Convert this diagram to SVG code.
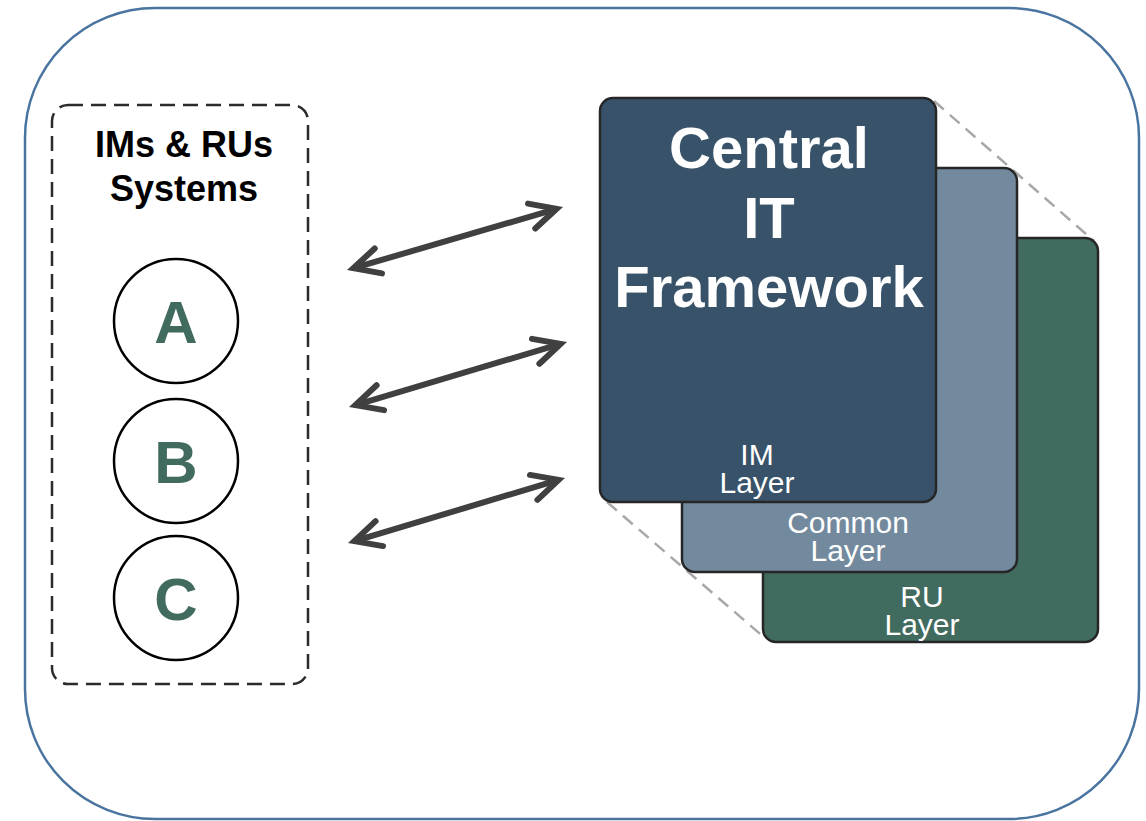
<svg xmlns="http://www.w3.org/2000/svg" width="1146" height="821" viewBox="0 0 1146 821">
  <style>
    .frame { fill: #ffffff; stroke: #4a74a0; stroke-width: 2.5; }
    .group-box { fill: none; stroke: #2b2b2b; stroke-width: 2.5; stroke-dasharray: 15 8; }
    .sys { fill: #ffffff; stroke: #000000; stroke-width: 2.5; }
    .sys-label { font-family: "Liberation Sans", Arial, sans-serif; font-weight: bold; font-size: 60px; fill: #426b5f; text-anchor: middle; }
    .title { font-family: "Liberation Sans", Arial, sans-serif; font-weight: bold; font-size: 36px; fill: #000000; text-anchor: middle; }
    .layer { stroke: #262626; stroke-width: 2.5; }
    .layer-label { font-family: "Liberation Sans", Arial, sans-serif; font-size: 30px; fill: #ffffff; text-anchor: middle; }
    .big { font-family: "Liberation Sans", Arial, sans-serif; font-weight: bold; font-size: 58px; fill: #ffffff; text-anchor: middle; }
    .guide { fill: none; stroke: #a8a8a8; stroke-width: 2.5; stroke-dasharray: 13 8; }
    .link { fill: none; stroke: #404040; stroke-width: 6; stroke-linecap: butt; marker-start: url(#head); marker-end: url(#head); }
  </style>
  <defs>
    <marker id="head" markerUnits="userSpaceOnUse" markerWidth="40" markerHeight="40" refX="0" refY="0" orient="auto-start-reverse" overflow="visible">
      <path d="M -26 -13 L 0 0 L -26 13" fill="none" stroke="#404040" stroke-width="6" stroke-linecap="round" stroke-linejoin="miter"/>
    </marker>
  </defs>

  <!-- outer frame -->
  <rect class="frame" x="25" y="8" width="1114" height="811" rx="130" ry="130"/>

  <!-- left group: source systems -->
  <g id="systems">
    <rect class="group-box" x="52" y="105" width="256" height="579" rx="16" ry="16"/>
    <text class="title" x="184" y="157">IMs &amp; RUs<tspan x="184" dy="44">Systems</tspan></text>
  </g>
  <g id="system-a">
    <circle class="sys" cx="176" cy="321" r="62"/>
    <text class="sys-label" x="176" y="343">A</text>
  </g>
  <g id="system-b">
    <circle class="sys" cx="176" cy="461" r="62"/>
    <text class="sys-label" x="176" y="483">B</text>
  </g>
  <g id="system-c">
    <circle class="sys" cx="176" cy="598" r="62"/>
    <text class="sys-label" x="176" y="620">C</text>
  </g>

  <!-- connectors -->
  <g id="connectors">
    <path class="link" d="M 353.4 268.2 L 556.6 208.8"/>
    <path class="link" d="M 355.4 405.1 L 560.6 343.9"/>
    <path class="link" d="M 354.4 541.1 L 558.6 479.9"/>
  </g>

  <!-- stacked layers of the central framework -->
  <g id="guides">
    <line class="guide" x1="934" y1="101" x2="1094" y2="241"/>
    <line class="guide" x1="607" y1="502" x2="766" y2="639"/>
  </g>
  <g id="ru-layer">
    <rect class="layer" x="763" y="238" width="335" height="404" rx="13" ry="13" fill="#426b5f"/>
    <text class="layer-label" x="922" y="607">RU<tspan x="922" dy="28">Layer</tspan></text>
  </g>
  <g id="common-layer">
    <rect class="layer" x="682" y="168" width="335" height="404" rx="13" ry="13" fill="#738a9e"/>
    <text class="layer-label" x="848" y="533">Common<tspan x="848" dy="28">Layer</tspan></text>
  </g>
  <g id="im-layer">
    <rect class="layer" x="600" y="98" width="336" height="404" rx="13" ry="13" fill="#385369"/>
    <text class="big" x="769" y="168">Central<tspan x="769" dy="70">IT</tspan><tspan x="769" dy="69">Framework</tspan></text>
    <text class="layer-label" x="757" y="465">IM<tspan x="757" dy="28">Layer</tspan></text>
  </g>
</svg>
